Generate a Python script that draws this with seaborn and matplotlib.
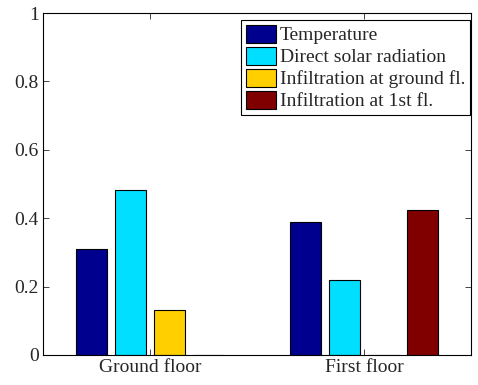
import pandas as pd
import matplotlib.pyplot as plt
import seaborn as sns

# values
floors = ["Ground floor", "First floor"]
sources = ["Temperature", "Direct solar radiation",
           "Infiltration at ground fl.", "Infiltration at 1st fl."]
ground_vals = [0.31, 0.482, 0.131, 0.0]
first_vals = [0.39, 0.22, 0.0, 0.423]
colors = ["#00008F", "#00DFFF", "#FFCF00", "#800000"]

rows = []
for s, g, f in zip(sources, ground_vals, first_vals):
    rows.append({"floor": floors[0], "source": s, "value": g})
    rows.append({"floor": floors[1], "source": s, "value": f})
df = pd.DataFrame(rows)

sns.set_style("ticks")
plt.rcParams["font.family"] = ["Liberation Serif", "DejaVu Serif"]
plt.rcParams["xtick.direction"] = "in"
plt.rcParams["ytick.direction"] = "in"

fig = plt.figure(figsize=(4.78, 3.85), dpi=100)
ax = fig.add_axes([0.09, 0.078, 0.895, 0.888])

sns.barplot(data=df, x="floor", y="value", hue="source", order=floors,
            hue_order=sources, palette=colors, saturation=1, width=0.727,
            gap=0.2, edgecolor="black", linewidth=0.8, ax=ax)

ax.set_xlim(-0.5, 1.5)
ax.set_ylim(0, 1)
ax.set_yticks([0, 0.2, 0.4, 0.6, 0.8, 1])
ax.set_yticklabels(["0", "0.2", "0.4", "0.6", "0.8", "1"])
ax.set_xlabel("")
ax.set_ylabel("")
ax.tick_params(labelsize=14, top=True, right=True, length=4, width=0.6, pad=3)
for sp in ax.spines.values():
    sp.set_visible(True)
    sp.set_linewidth(0.8)
    sp.set_color("black")

leg = ax.legend(loc="upper right", bbox_to_anchor=(0.998, 0.98), fontsize=14,
                fancybox=False, framealpha=1, edgecolor="black",
                handlelength=1.55, handleheight=1.05, labelspacing=0.12,
                handletextpad=0.2, borderpad=0.25, borderaxespad=0)
leg.get_frame().set_linewidth(0.8)

fig.savefig("out.png", dpi=100)
